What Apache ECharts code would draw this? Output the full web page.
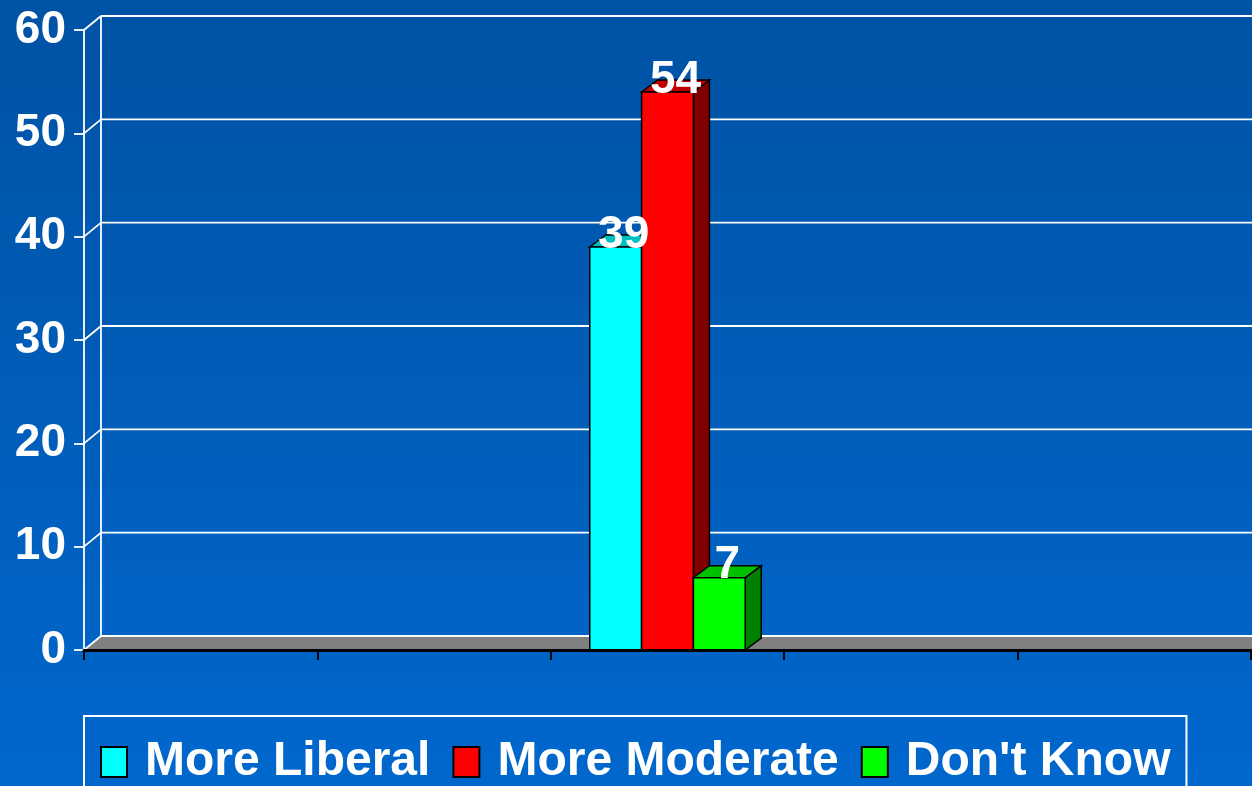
<!DOCTYPE html>
<html>
<head>
<meta charset="utf-8">
<script src="https://cdn.jsdelivr.net/npm/echarts@6/dist/echarts.min.js"></script>
<style>
html,body{margin:0;padding:0;}
#chart{width:1252px;height:786px;}
</style>
</head>
<body>
<div id="chart"></div>
<script>
// ---- data ----
const categories = ['1', '2', '3', '4', '5'];
const seriesNames = ['More Liberal', 'More Moderate', "Don't Know"];
const moreLiberal = [null, null, 39, null, null];
const moreModerate = [null, null, 54, null, null];
const dontKnow = [null, null, 7, null, null];
const yTicks = [0, 10, 20, 30, 40, 50, 60];

// ---- style ----
const frontColors = ['#00FFFF', '#FF0000', '#00FF00'];
const topColors = ['#00C0C0', '#C00000', '#00C000'];
const sideColors = ['#008080', '#800000', '#008000'];
const BAR_DX = 16, BAR_DY = -12;
const WALL_DX = 17, WALL_DY = -14;
const FONT = '"Liberation Sans", Arial, sans-serif';

const chart = echarts.init(document.getElementById('chart'));

function barGeom(i, api) {
  const c = api.value(0);
  const v = api.value(1);
  const top = api.coord([c, v]);
  const base = api.coord([c, 0]);
  const catW = api.size([1, 0])[0];
  const bw = catW * 0.222;
  const x0 = top[0] - 1.5 * bw + i * bw;
  return {x0: x0, x1: x0 + bw, y: top[1], yb: base[1], bw: bw, v: v};
}

function barRenderer(i) {
  return function (params, api) {
    const g = barGeom(i, api);
    if (g.v == null || isNaN(g.v)) return;
    const x0 = g.x0, x1 = g.x1, y = g.y, yb = g.yb;
    const stroke = {stroke: '#000', lineWidth: 1.5};
    return {
      type: 'group',
      children: [
        {type: 'polygon', shape: {points: [[x1, y], [x1 + BAR_DX, y + BAR_DY], [x1 + BAR_DX, yb + BAR_DY], [x1, yb]]},
          style: Object.assign({fill: sideColors[i]}, stroke)},
        {type: 'polygon', shape: {points: [[x0, y], [x0 + BAR_DX, y + BAR_DY], [x1 + BAR_DX, y + BAR_DY], [x1, y]]},
          style: Object.assign({fill: topColors[i]}, stroke)},
        {type: 'rect', shape: {x: x0, y: y, width: g.bw, height: yb - y},
          style: Object.assign({fill: frontColors[i]}, stroke)}
      ]
    };
  };
}

function labelRenderer(i) {
  return function (params, api) {
    const g = barGeom(i, api);
    if (g.v == null || isNaN(g.v)) return;
    return {type: 'text', style: {text: String(g.v), x: (g.x0 + g.x1) / 2 + BAR_DX / 2, y: g.y - 12,
      align: 'center', verticalAlign: 'middle', fill: '#fff',
      fontSize: 46, fontWeight: 'bold', fontFamily: FONT}};
  };
}

function wallRenderer(params, api) {
  const t = api.value(1);
  const cs = params.coordSys;
  const left = cs.x, right = cs.x + cs.width + 2;
  const y = api.coord([0, t])[1];
  const line = {stroke: '#fff', lineWidth: 1.8, fill: null};
  const children = [];
  if (t === yTicks[0]) {
    const yTop = api.coord([0, yTicks[yTicks.length - 1]])[1];
    children.push({type: 'polygon', shape: {points: [[left, y], [left + WALL_DX, y + WALL_DY], [right, y + WALL_DY], [right, y]]},
      style: {fill: '#808080'}});
    children.push({type: 'line', shape: {x1: left + WALL_DX, y1: y + WALL_DY, x2: left + WALL_DX, y2: yTop + WALL_DY}, style: line});
  }
  children.push({type: 'line', shape: {x1: left + WALL_DX, y1: y + WALL_DY, x2: right, y2: y + WALL_DY}, style: line});
  children.push({type: 'line', shape: {x1: left, y1: y, x2: left + WALL_DX, y2: y + WALL_DY}, style: line});
  return {type: 'group', children: children};
}

const barData = [moreLiberal, moreModerate, dontKnow];
const toPairs = arr => arr.map((v, k) => [k, v]).filter(d => d[1] != null);

const series = [{
  name: 'walls',
  type: 'custom',
  clip: false,
  z: 1,
  silent: true,
  renderItem: wallRenderer,
  data: yTicks.map(t => [0, t])
}].concat(seriesNames.map((name, i) => ({
  name: name,
  type: 'custom',
  clip: false,
  z: 2 + i,
  itemStyle: {color: frontColors[i]},
  renderItem: barRenderer(i),
  data: toPairs(barData[i])
}))).concat(seriesNames.map((name, i) => ({
  name: name + ' label',
  type: 'custom',
  clip: false,
  z: 20,
  silent: true,
  renderItem: labelRenderer(i),
  data: toPairs(barData[i])
})));

chart.setOption({
  animation: false,
  backgroundColor: {
    type: 'linear', x: 0, y: 0, x2: 0, y2: 1,
    colorStops: [{offset: 0, color: '#0052A4'}, {offset: 1, color: '#0067CD'}]
  },
  grid: {left: 84, right: 1, top: 30, bottom: 136, containLabel: false},
  xAxis: {
    type: 'category',
    data: categories,
    z: 10,
    axisLine: {lineStyle: {color: '#000', width: 3}},
    axisTick: {show: true, length: 10, lineStyle: {color: '#000', width: 2}},
    axisLabel: {show: false},
    splitLine: {show: false}
  },
  yAxis: {
    type: 'value',
    min: 0, max: 60, interval: 10,
    axisLine: {show: true, lineStyle: {color: '#fff', width: 1.8}},
    axisTick: {show: true, length: 10, lineStyle: {color: '#fff', width: 1.8}},
    axisLabel: {color: '#fff', fontSize: 46, fontWeight: 'bold', fontFamily: FONT, margin: 18},
    splitLine: {show: false}
  },
  legend: {
    data: seriesNames,
    left: 84, top: 716,
    padding: [22, 16, 40, 16],
    borderColor: '#fff', borderWidth: 2,
    itemWidth: 26, itemHeight: 30, itemGap: 22,
    icon: 'rect',
    itemStyle: {borderColor: '#000', borderWidth: 2},
    textStyle: {color: '#fff', fontSize: 48, fontWeight: 'bold', fontFamily: FONT, padding: [0, 0, 0, 13]}
  },
  series: series
});
</script>
</body>
</html>
